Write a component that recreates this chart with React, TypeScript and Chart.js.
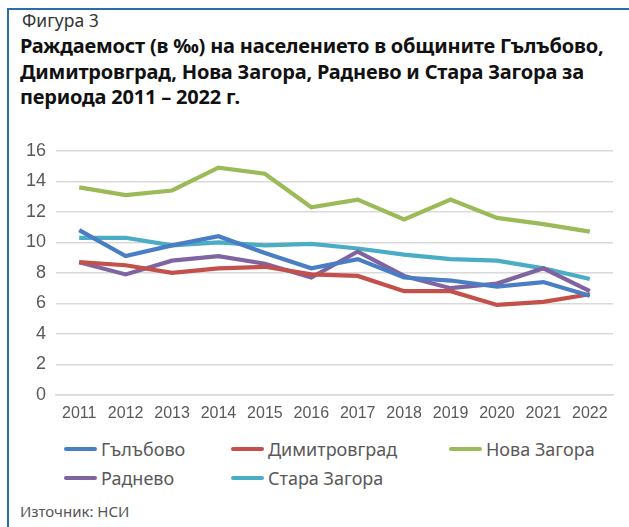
import React, { useEffect, useRef } from "react";
import { Chart, registerables } from "chart.js";

Chart.register(...registerables);

const years = ["2011", "2012", "2013", "2014", "2015", "2016", "2017", "2018", "2019", "2020", "2021", "2022"];
const galabovo = [10.8, 9.1, 9.8, 10.4, 9.3, 8.3, 8.9, 7.7, 7.5, 7.1, 7.4, 6.5];
const dimitrovgrad = [8.7, 8.5, 8.0, 8.3, 8.4, 7.9, 7.8, 6.8, 6.8, 5.9, 6.1, 6.6];
const novaZagora = [13.6, 13.1, 13.4, 14.9, 14.5, 12.3, 12.8, 11.5, 12.8, 11.6, 11.2, 10.7];
const radnevo = [8.7, 7.9, 8.8, 9.1, 8.6, 7.7, 9.4, 7.8, 7.0, 7.3, 8.3, 6.8];
const staraZagora = [10.3, 10.3, 9.8, 10.0, 9.8, 9.9, 9.6, 9.2, 8.9, 8.8, 8.3, 7.6];

const seriesNames = ["Гълъбово", "Димитровград", "Нова Загора", "Раднево", "Стара Загора"];
const seriesValues = [galabovo, dimitrovgrad, novaZagora, radnevo, staraZagora];
const seriesColors = ["#4a7ec4", "#c4504b", "#9bbb59", "#8064a2", "#4bacc6"];

const yTicks = { min: 0, max: 16, step: 2 };

const tickFont = "'Liberation Sans Narrow', 'Liberation Sans', sans-serif";

export default function App() {
  const ref = useRef<HTMLCanvasElement>(null);

  useEffect(() => {
    const chart = new Chart(ref.current!, {
      type: "line",
      data: {
        labels: years,
        datasets: seriesNames.map((name, i) => ({
          label: name,
          data: seriesValues[i],
          borderColor: seriesColors[i],
          backgroundColor: seriesColors[i],
          borderWidth: 4.2,
          pointRadius: 0,
          tension: 0,
          fill: false,
        })),
      },
      options: {
        animation: false,
        responsive: false,
        layout: { padding: { top: 18, right: 16, left: 0, bottom: 0 } },
        plugins: { legend: { display: false }, tooltip: { enabled: false }, title: { display: false } },
        scales: {
          x: {
            offset: true,
            grid: { display: false, drawTicks: false },
            border: { color: "#d9d9d9", width: 1.5 },
            ticks: { color: "#595959", font: { family: tickFont, size: 16 }, padding: 9, maxRotation: 0, autoSkip: false },
            afterFit: (s: any) => { s.height = 35; },
          },
          y: {
            min: yTicks.min,
            max: yTicks.max,
            ticks: { stepSize: yTicks.step, color: "#595959", font: { family: tickFont, size: 18 }, padding: 10 },
            grid: { color: "#d9d9d9", lineWidth: 1.5, drawTicks: false },
            border: { display: false },
            afterFit: (s: any) => { s.width = 56; },
          },
        },
      },
    });
    return () => chart.destroy();
  }, []);

  const legendCols = [64, 231, 449];
  const legendRows = [449, 478];

  return (
    <div style={{ position: "fixed", left: 0, top: 0, width: 629, height: 527, background: "#fff", overflow: "hidden" }}>
      <div style={{ position: "absolute", left: 7, top: 8, right: -4, bottom: -4, borderTop: "2px solid #2a6cae", borderLeft: "2px solid #2a6cae" }} />
      <div style={{ position: "absolute", left: 22, top: 10, fontFamily: "'Noto Sans', sans-serif", fontSize: 17.5, color: "#333", lineHeight: "20px", whiteSpace: "nowrap" }}>
        Фигура 3
      </div>
      <div style={{ position: "absolute", left: 20, top: 33, width: 610, fontFamily: "'Noto Sans', sans-serif", fontWeight: 700, fontSize: 20, color: "#111", lineHeight: "25.5px", letterSpacing: -0.2 }}>
        <div style={{ whiteSpace: "nowrap" }}>Раждаемост (в ‰) на населението в общините Гълъбово,</div>
        <div style={{ whiteSpace: "nowrap" }}>Димитровград, Нова Загора, Раднево и Стара Загора за</div>
        <div style={{ whiteSpace: "nowrap" }}>периода 2011 – 2022 г.</div>
      </div>
      <canvas ref={ref} width={629} height={300} style={{ position: "absolute", left: 0, top: 130, width: 629, height: 300 }} />
      {seriesNames.map((name, i) => (
        <div key={name} style={{ position: "absolute", left: legendCols[i % 3], top: legendRows[Math.floor(i / 3)] - 12, height: 24, display: "flex", alignItems: "center", whiteSpace: "nowrap" }}>
          <span style={{ display: "inline-block", width: 33, height: 4, background: seriesColors[i], borderRadius: 2, marginRight: 4 }} />
          <span style={{ fontFamily: "'Noto Sans', sans-serif", fontSize: 18, color: "#595959" }}>{name}</span>
        </div>
      ))}
      <div style={{ position: "absolute", left: 20, top: 502, fontFamily: "'Noto Sans', sans-serif", fontSize: 15, color: "#555", lineHeight: "18px" }}>
        Източник: НСИ
      </div>
    </div>
  );
}
